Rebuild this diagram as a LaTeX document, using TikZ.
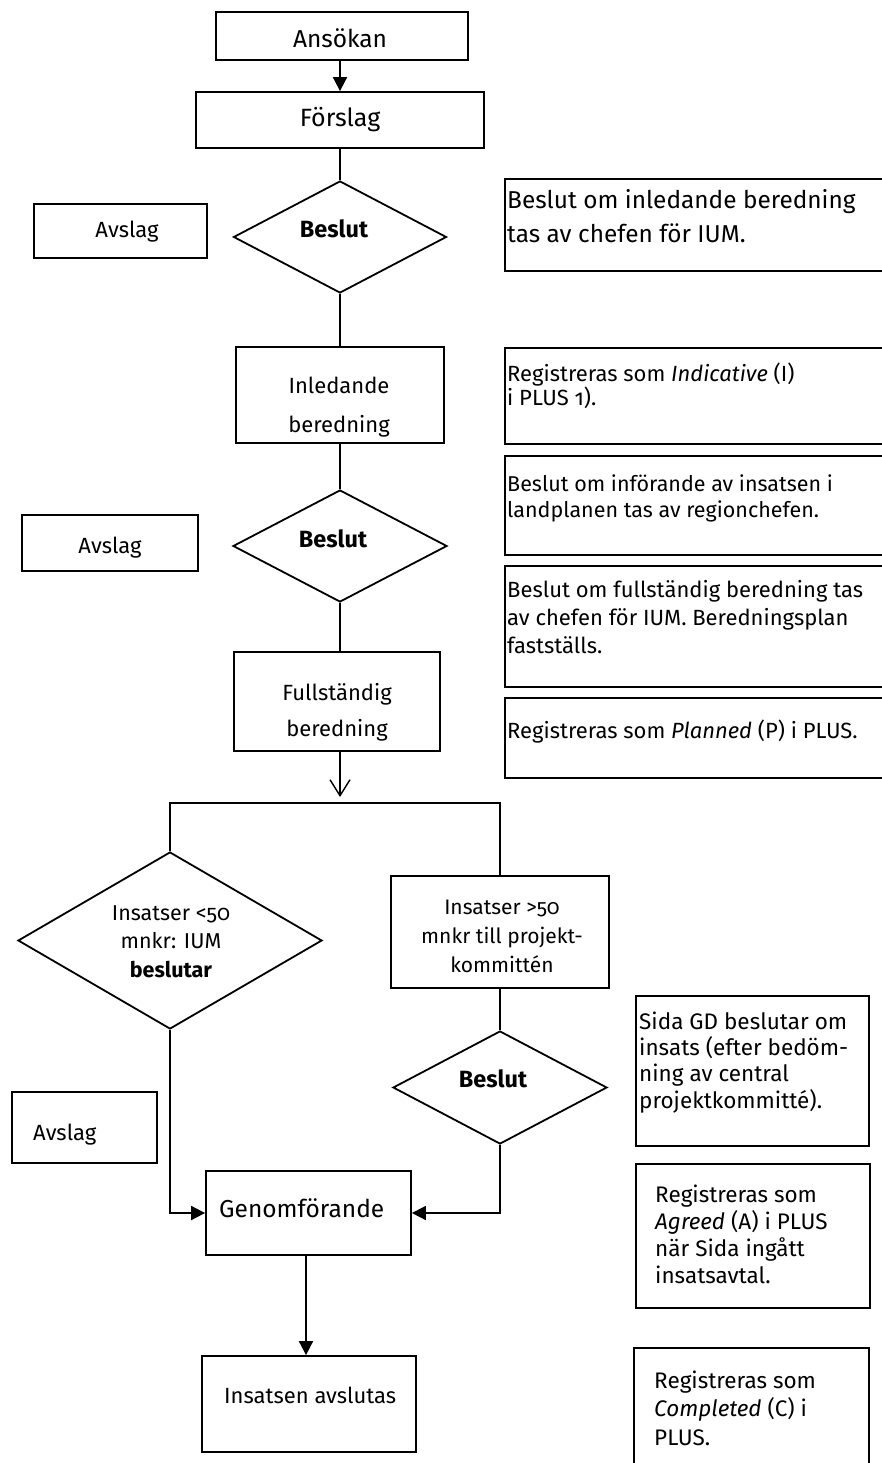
\documentclass[tikz,border=0pt]{standalone}
\usepackage{fontspec}
\setmainfont{Fira Sans}[Numbers=OldStyle]
\usetikzlibrary{arrows.meta,shapes.geometric}
\newcommand\fsz[2]{\fontsize{#1}{#2}\selectfont}

\tikzset{
  flow/.style={line width=1.8pt},
  box/.style={draw, line width=1.8pt, rectangle, inner sep=0pt,
              minimum width=#1},
  dia/.style={draw, line width=1.8pt, diamond, inner sep=0pt, minimum width=#1},
  ctext/.style={anchor=base, inner sep=0pt, align=center, font=\fsz{22}{28}},
  ltext/.style={anchor=base west, inner sep=0pt, align=left, font=\fsz{22}{27}},
  arr/.style={flow, -{Triangle[length=14pt,width=14pt]}},
  openarr/.style={flow, -{Straight Barb[length=16pt,width=20pt,line width=1.4pt]}}
}

\begin{document}
\begin{tikzpicture}[x=1pt,y=-1pt]
\useasboundingbox (0,0) rectangle (882,1463);

% ---- main column ----
\node[box=252pt, minimum height=48pt]  (ans)  at (342,36)    {};
\node[box=288pt, minimum height=56pt]  (fors) at (340,120)   {};
\node[dia=213pt, minimum height=112pt] (d1)   at (340,237)   {};
\node[box=208pt, minimum height=96pt]  (inl)  at (340,395)   {};
\node[dia=214pt, minimum height=112pt] (d2)   at (340,546)   {};
\node[box=206pt, minimum height=99pt]  (full) at (337,701.5) {};
\coordinate (split) at (340,797);
\coordinate (bar)   at (340,803);

% ---- lower branches ----
\node[dia=304pt, minimum height=177pt] (d3)  at (170,940.5)  {};
\node[box=218pt, minimum height=112pt] (rb)  at (500,932)    {};
\node[dia=214pt, minimum height=113pt] (d4)  at (500,1087.5) {};
\node[box=205pt, minimum height=84pt]  (gen) at (308.5,1213) {};
\node[box=214pt, minimum height=96pt]  (ins) at (309,1404)   {};

% ---- rejection boxes ----
\node[box=173pt, minimum height=54pt] (avs1) at (120.5,231)   {};
\node[box=176pt, minimum height=56pt] (avs2) at (110,543)     {};
\node[box=145pt, minimum height=71pt] (avs3) at (84.5,1127.5) {};

% ---- note boxes on the right ----
\node[box=395pt, minimum height=92pt]  (n1) at (702.5,225)   {};
\node[box=395pt, minimum height=96pt]  (n2) at (702.5,396)   {};
\node[box=395pt, minimum height=99pt]  (n3) at (702.5,505.5) {};
\node[box=395pt, minimum height=121pt] (n4) at (702.5,626.5) {};
\node[box=395pt, minimum height=80pt]  (n5) at (702.5,738)   {};
\node[box=233pt, minimum height=150pt] (n6) at (752.5,1071)  {};
\node[box=234pt, minimum height=144pt] (n7) at (753,1236)    {};
\node[box=235pt, minimum height=132pt] (n8) at (751.5,1414)  {};

% ---- connectors ----
\draw[arr] (ans.south -| fors.north) -- (fors.north);
\draw[flow] (fors.south) -- (d1.north);
\draw[flow] (d1.south) -- (inl.north);
\draw[flow] (inl.south) -- (d2.north);
\draw[flow] (d2.south) -- (full.north -| d2.south);
\draw[openarr] (full.south -| split) -- (split);
\draw[flow] (d3.north) |- (bar) -| (rb.north);
\draw[flow] (rb.south) -- (d4.north);
\draw[arr] (d4.south) |- (gen.east);
\draw[arr] (d3.south) |- (gen.west);
\draw[arr] ([xshift=-2.5pt]gen.south) -- ([xshift=-2.5pt]gen.south |- ins.north);

% ---- texts (multi-line blocks sit on the baseline of their last line) ----
\node[ctext, font=\fsz{24.5}{28}] (tans)  at (340,48)  {Ansökan};
\node[ctext, font=\fsz{25}{28}]   (tfors) at (340,127) {Förslag};
\node[ctext, font=\fsz{23.5}{28}\bfseries] (td1) at (334,237) {Beslut};
\node[ctext] (tavs1) at (127,238) {Avslag};
\node[ltext, font=\fsz{24.4}{34}] (tn1) at (507,243)
  {Beslut om inledande beredning\\tas av chefen för IUM.};
\node[ctext, font=\fsz{22}{39}] (tinl) at (339,432) {Inledande\\beredning};
\node[ltext, font=\fsz{22}{19.5}] (tn2) at (507,405.5)
  {Registreras som \textit{Indicative} (I)\\i PLUS 1).};
\node[ltext, font=\fsz{21.5}{26}] (tn3) at (507,517)
  {Beslut om införande av insatsen i\\landplanen tas av regionchefen.};
\node[ctext, font=\fsz{23.5}{28}\bfseries] (td2) at (333,547) {Beslut};
\node[ctext] (tavs2) at (110,553) {Avslag};
\node[ltext, font=\fsz{22}{28}] (tn4) at (507,653)
  {Beslut om fullständig beredning tas\\av chefen för IUM. Beredningsplan\\fastställs.};
\node[ctext, font=\fsz{22}{36}] (tfull) at (337,736) {Fullständig\\beredning};
\node[ltext] (tn5) at (507,738) {Registreras som \textit{Planned} (P) i PLUS.};
\node[ctext, font=\fsz{21.5}{28.5}] (td3) at (171,977)
  {Insatser <50\\mnkr: IUM\\\textbf{beslutar}};
\node[ctext, font=\fsz{21}{29}] (trb) at (502,972)
  {Insatser >50\\mnkr till projekt-\\kommittén};
\node[ctext, font=\fsz{23.5}{28}\bfseries] (td4) at (493,1087) {Beslut};
\node[ltext, font=\fsz{22.5}{26.3}] (tn6) at (639,1108)
  {Sida GD beslutar om\\insats (efter bedöm-\\ning av central\\projektkommitté).};
\node[ltext] (tavs3) at (33,1140) {Avslag};
\node[ltext, font=\fsz{24.5}{28}] (tgen) at (219,1217) {Genomförande};
\node[ltext, font=\fsz{22.5}{27}] (tn7) at (655,1283)
  {Registreras som\\\textit{Agreed} (A) i PLUS\\när Sida ingått\\insatsavtal.};
\node[ltext, font=\fsz{22}{28}] (tins) at (224,1403) {Insatsen avslutas};
\node[ltext, font=\fsz{22.5}{28.5}] (tn8) at (654,1445)
  {Registreras som\\\textit{Completed} (C) i\\PLUS.};
\end{tikzpicture}
\end{document}
